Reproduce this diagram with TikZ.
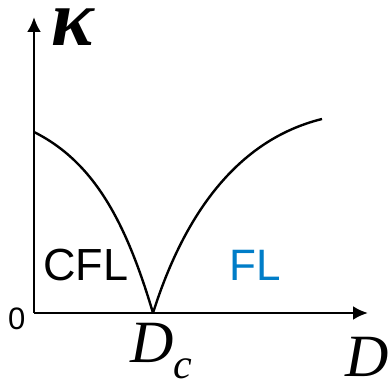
\documentclass[tikz,border=0pt]{standalone}
\usepackage{fontspec}
\usetikzlibrary{arrows.meta}
\setmainfont{Liberation Sans}
\newfontfamily\serifit{Liberation Serif}
\definecolor{flblue}{RGB}{0,125,200}
\begin{document}
\begin{tikzpicture}[x=1pt,y=-1pt,
  axis/.style={line width=2.8pt,-{Latex[length=15pt,width=14pt]}},
  curve/.style={line width=2.4pt},
  lbl/.style={inner sep=0pt,anchor=base west}]
\useasboundingbox (0,0) rectangle (389,382);
\coordinate (o) at (34,313);
\coordinate (ytip) at (34,17);
\coordinate (xtip) at (368,313);
\coordinate (dc) at (153,313);
\coordinate (k0) at (34,132);
\coordinate (rend) at (322,119);
\draw[axis] (o) -- (ytip);
\draw[axis] (o) -- (xtip);
\draw[curve] (k0) .. controls (94,162) and (126,222) .. (dc);
\draw[curve] (dc) .. controls (184,215) and (237,140) .. (rend);
\node[lbl,font=\fontsize{31}{31}\selectfont] (zero) at (8,330) {0};
\node[lbl,font=\fontsize{45}{45}\selectfont] (cfl) at (43,281) {CFL};
\node[lbl,font=\fontsize{44}{44}\selectfont,text=flblue] (fl) at (229,281) {FL};
\node[lbl,font=\fontsize{60}{60}\selectfont\serifit\itshape] (dcl) at (130,363) {\raisebox{0pt}[0.7em][0pt]{D}\raisebox{-16pt}[0pt][0pt]{\fontsize{42}{42}\selectfont c}};
\node[lbl,font=\fontsize{60}{60}\selectfont\serifit\itshape] (dl) at (345,377) {\raisebox{0pt}[0.7em][0pt]{D}};
\node[lbl,font=\fontsize{80}{80}\selectfont\serifit\bfseries\itshape] (kap) at (51,46) {\raisebox{0pt}[0.45em][0pt]{κ}};
\end{tikzpicture}
\end{document}
